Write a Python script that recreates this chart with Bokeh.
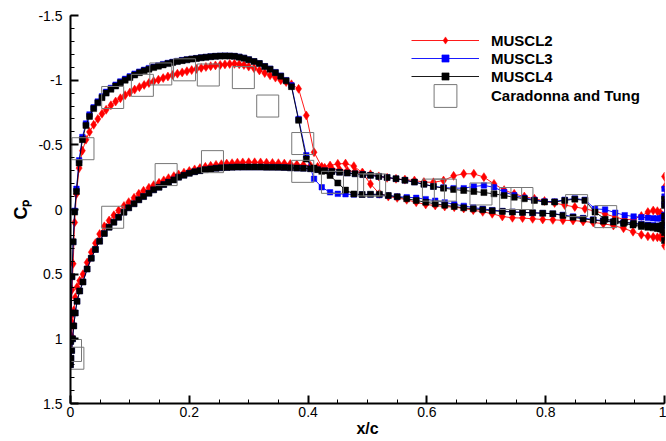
from bokeh.plotting import figure
from bokeh.models import (Range1d, SingleIntervalTicker, CustomJSTickFormatter,
                          Legend, LegendItem)
from bokeh.embed import file_html
from bokeh.resources import INLINE

# ---------------- data ----------------
x_upper = [0.0, 0.0004, 0.0012, 0.0025, 0.0045, 0.007, 0.010, 0.0145, 0.020, 0.026,
           0.032, 0.039, 0.046, 0.053, 0.060, 0.068, 0.076, 0.084, 0.092, 0.100,
           0.108, 0.116, 0.124, 0.132, 0.140, 0.148, 0.156, 0.164, 0.172, 0.180,
           0.188, 0.196, 0.204, 0.212, 0.220, 0.228, 0.236, 0.244, 0.252, 0.260,
           0.268, 0.276, 0.284, 0.292, 0.300, 0.309, 0.318, 0.327, 0.336, 0.345,
           0.354, 0.363, 0.372, 0.384, 0.397, 0.410, 0.423, 0.437, 0.450, 0.463,
           0.477, 0.491, 0.505, 0.520, 0.535, 0.550, 0.566, 0.582, 0.598, 0.614,
           0.630, 0.646, 0.662, 0.678, 0.694, 0.710, 0.727, 0.744, 0.761, 0.778,
           0.795, 0.812, 0.829, 0.846, 0.863, 0.880, 0.897, 0.914, 0.931, 0.947,
           0.961, 0.972, 0.981, 0.988, 0.993, 0.997, 1.0]

cp4_upper = [1.20, 1.02, 0.80, 0.52, 0.25, 0.02, -0.14, -0.36, -0.54, -0.65,
             -0.72, -0.78, -0.825, -0.865, -0.90, -0.93, -0.955, -0.98, -1.00, -1.02,
             -1.04, -1.058, -1.072, -1.085, -1.097, -1.108, -1.118, -1.128, -1.136, -1.144,
             -1.151, -1.157, -1.163, -1.168, -1.173, -1.177, -1.181, -1.184, -1.186, -1.187,
             -1.186, -1.184, -1.178, -1.170, -1.158, -1.144, -1.128, -1.105, -1.085, -1.058,
             -1.030, -0.995, -0.95, -0.69, -0.39, -0.32, -0.295, -0.263, -0.205, -0.15,
             -0.12, -0.116, -0.118, -0.118, -0.108, -0.098, -0.083, -0.07, -0.056, -0.044,
             -0.033, -0.023, -0.013, -0.005, 0.002, 0.009, 0.015, 0.020, 0.023, 0.026,
             0.029, 0.033, 0.046, 0.060, 0.072, 0.082, 0.090, 0.097, 0.108, 0.120,
             0.131, 0.138, 0.142, 0.146, 0.150, 0.160, 0.18]

cp3_upper = [1.20, 1.02, 0.80, 0.52, 0.25, 0.01, -0.16, -0.38, -0.56, -0.665,
             -0.735, -0.79, -0.835, -0.875, -0.91, -0.94, -0.965, -0.99, -1.01, -1.03,
             -1.05, -1.066, -1.08, -1.093, -1.104, -1.114, -1.124, -1.133, -1.141, -1.148,
             -1.155, -1.16, -1.165, -1.17, -1.175, -1.179, -1.183, -1.186, -1.188, -1.189,
             -1.188, -1.186, -1.18, -1.172, -1.16, -1.146, -1.13, -1.108, -1.088, -1.062,
             -1.035, -1.0, -0.96, -0.70, -0.42, -0.237, -0.172, -0.133, -0.121, -0.118,
             -0.116, -0.116, -0.116, -0.112, -0.108, -0.10, -0.095, -0.09, -0.08, -0.068,
             -0.055, -0.04, -0.028, -0.015, -0.005, 0.005, 0.012, 0.018, 0.022, 0.025,
             0.028, 0.032, 0.042, 0.055, 0.066, 0.078, 0.086, 0.093, 0.100, 0.106,
             0.112, 0.118, 0.122, 0.125, 0.128, 0.13, 0.13]

cp2_upper = [1.15, 1.00, 0.82, 0.62, 0.42, 0.10, -0.12, -0.32, -0.455, -0.54,
             -0.60, -0.655, -0.70, -0.74, -0.771, -0.806, -0.835, -0.86, -0.884, -0.905,
             -0.927, -0.946, -0.963, -0.978, -0.992, -1.004, -1.016, -1.028, -1.04, -1.05,
             -1.06, -1.069, -1.078, -1.087, -1.095, -1.102, -1.108, -1.114, -1.118, -1.122,
             -1.125, -1.126, -1.123, -1.117, -1.105, -1.093, -1.075, -1.055, -1.038, -1.02,
             -1.0, -0.985, -0.968, -0.933, -0.727, -0.443, -0.33, -0.34, -0.353, -0.355,
             -0.335, -0.285, -0.198, -0.122, -0.10, -0.09, -0.075, -0.056, -0.039, -0.031,
             -0.023, -0.018, -0.008, 0.005, 0.018, 0.033, 0.054, 0.064, 0.066, 0.072,
             0.077, 0.080, 0.083, 0.085, 0.092, 0.100, 0.110, 0.124, 0.145, 0.172,
             0.195, 0.207, 0.213, 0.215, 0.215, 0.215, 0.22]

x_lower = [0.0008, 0.002, 0.0035, 0.0055, 0.008, 0.011, 0.0155, 0.021, 0.028, 0.035,
           0.042, 0.049, 0.057, 0.065, 0.073, 0.081, 0.090, 0.098, 0.107, 0.115,
           0.123, 0.132, 0.140, 0.149, 0.157, 0.165, 0.174, 0.182, 0.191, 0.200,
           0.209, 0.218, 0.227, 0.236, 0.245, 0.254, 0.263, 0.272, 0.281, 0.290,
           0.300, 0.310, 0.320, 0.330, 0.340, 0.350, 0.360, 0.370, 0.381, 0.392,
           0.404, 0.416, 0.428, 0.440, 0.453, 0.466, 0.479, 0.492, 0.505, 0.519,
           0.533, 0.548, 0.563, 0.579, 0.595, 0.611, 0.628, 0.645, 0.662, 0.679,
           0.696, 0.713, 0.730, 0.747, 0.764, 0.781, 0.798, 0.815, 0.832, 0.849,
           0.866, 0.883, 0.900, 0.917, 0.933, 0.948, 0.961, 0.972, 0.981, 0.988,
           0.993, 0.997, 1.0]

cp4_lower = [1.15, 1.09, 1.00, 0.90, 0.80, 0.71, 0.63, 0.56, 0.46, 0.377,
             0.309, 0.245, 0.185, 0.137, 0.098, 0.06, 0.021, -0.013, -0.044, -0.075,
             -0.10, -0.126, -0.152, -0.172, -0.193, -0.211, -0.229, -0.25, -0.265, -0.28,
             -0.292, -0.30, -0.308, -0.314, -0.319, -0.322, -0.325, -0.327, -0.328, -0.328,
             -0.328, -0.328, -0.328, -0.327, -0.327, -0.326, -0.325, -0.322, -0.32, -0.318,
             -0.315, -0.308, -0.30, -0.294, -0.288, -0.282, -0.276, -0.27, -0.264, -0.256,
             -0.248, -0.238, -0.226, -0.212, -0.195, -0.178, -0.165, -0.155, -0.147, -0.139,
             -0.131, -0.121, -0.108, -0.095, -0.083, -0.07, -0.058, -0.058, -0.07, -0.08,
             -0.07, 0.02, 0.075, 0.088, 0.098, 0.108, 0.118, 0.126, 0.130, 0.132,
             0.128, 0.12, 0.10]

cp3_lower = [1.15, 1.09, 1.00, 0.90, 0.80, 0.71, 0.63, 0.56, 0.46, 0.377,
             0.309, 0.245, 0.185, 0.137, 0.098, 0.06, 0.021, -0.013, -0.044, -0.075,
             -0.10, -0.126, -0.152, -0.172, -0.193, -0.211, -0.229, -0.25, -0.265, -0.28,
             -0.292, -0.30, -0.308, -0.314, -0.319, -0.322, -0.325, -0.327, -0.328, -0.328,
             -0.328, -0.328, -0.328, -0.327, -0.327, -0.326, -0.325, -0.322, -0.32, -0.318,
             -0.315, -0.308, -0.30, -0.294, -0.288, -0.282, -0.276, -0.27, -0.264, -0.256,
             -0.248, -0.238, -0.226, -0.212, -0.195, -0.178, -0.17, -0.165, -0.165, -0.178,
             -0.186, -0.172, -0.135, -0.11, -0.09, -0.075, -0.062, -0.062, -0.075, -0.085,
             -0.075, -0.005, 0.0, 0.025, 0.044, 0.054, 0.06, 0.064, 0.068, 0.07,
             0.068, 0.06, 0.04]

cp2_lower = [1.08, 0.98, 0.88, 0.78, 0.68, 0.60, 0.55, 0.50, 0.41, 0.33,
             0.26, 0.19, 0.13, 0.085, 0.045, 0.008, -0.027, -0.057, -0.09, -0.121,
             -0.145, -0.168, -0.188, -0.206, -0.225, -0.242, -0.258, -0.271, -0.285, -0.298,
             -0.31, -0.32, -0.33, -0.338, -0.345, -0.35, -0.355, -0.358, -0.362, -0.364,
             -0.365, -0.365, -0.364, -0.362, -0.36, -0.358, -0.355, -0.352, -0.348, -0.344,
             -0.338, -0.33, -0.322, -0.315, -0.308, -0.30, -0.292, -0.283, -0.272, -0.256,
             -0.245, -0.237, -0.231, -0.224, -0.212, -0.21, -0.224, -0.26, -0.276, -0.276,
             -0.25, -0.198, -0.15, -0.121, -0.10, -0.083, -0.066, -0.05, -0.034, -0.02,
             -0.005, 0.012, 0.035, 0.058, 0.078, 0.075, 0.05, 0.02, 0.008, 0.013,
             0.025, 0.05, 0.08]

# trailing-edge base points (x = 1)
te_x2 = [1.0, 1.0, 1.0, 1.0]
te_cp2 = [-0.255, -0.17, -0.05, 0.28]
te_x3 = [1.0, 1.0, 1.0]
te_cp3 = [-0.16, -0.10, -0.04]
te_x4 = [1.0, 1.0, 1.0, 1.0]
te_cp4 = [-0.08, -0.03, 0.05, 0.24]

# Caradonna and Tung experiment
exp_x = [0.0, 0.004, 0.021, 0.071, 0.121, 0.152, 0.192, 0.232, 0.291, 0.332,
         0.391, 0.391, 0.441, 0.502, 0.512, 0.611, 0.631, 0.691, 0.741, 0.760,
         0.852, 0.901, 0.071, 0.161, 0.239]
exp_cp = [1.09, 1.15, -0.47, -0.866, -0.96, -1.048, -1.08, -1.04, -1.02, -0.80,
          -0.51, -0.295, -0.21, -0.19, -0.19, -0.15, -0.15, -0.12, -0.085, -0.085,
          -0.03, 0.055, 0.06, -0.27, -0.37]

labels = ["MUSCL2", "MUSCL3", "MUSCL4", "Caradonna and Tung"]

# ---------------- figure ----------------
FONT = "Liberation Sans"
p = figure(width=666, height=441, output_backend="svg", toolbar_location=None,
           x_range=Range1d(0, 1), y_range=Range1d(1.5, -1.5),
           min_border_left=70, min_border_right=2, min_border_top=15,
           min_border_bottom=38)
p.outline_line_color = None
p.xgrid.visible = False
p.ygrid.visible = False
p.background_fill_color = "white"
p.border_fill_color = "white"


def loop(tx, tc, xu, cu, xl, cl):
    xs = list(tx) + list(reversed(xu)) + list(xl)
    ys = list(tc) + list(reversed(cu)) + list(cl)
    return xs, ys


series = [
    (te_x2, te_cp2, cp2_upper, cp2_lower, "#ff0000", "diamond", 9),
    (te_x3, te_cp3, cp3_upper, cp3_lower, "#0000ff", "square", 5.5),
    (te_x4, te_cp4, cp4_upper, cp4_lower, "#000000", "square", 6),
]
items = []
for (tx, tc, cu, cl, col, mk, sz), lab in zip(series, labels[:3]):
    xs, ys = loop(tx, tc, x_upper, cu, x_lower, cl)
    lr = p.line(xs, ys, line_color=col, line_width=0.9)
    sr = p.scatter(xs, ys, marker=mk, size=sz, fill_color=col, line_color=col,
                   line_width=0.5)
    items.append(LegendItem(label=lab, renderers=[lr, sr]))

er = p.scatter(exp_x, exp_cp, marker="square", size=22, fill_color=None,
               line_color="#777777", line_width=1)

# axes
fmt_code = "return Number(tick.toFixed(3)).toString();"
for ax, interval, nminor in ((p.xaxis[0], 0.2, 4), (p.yaxis[0], 0.5, 5)):
    ax.ticker = SingleIntervalTicker(interval=interval, num_minor_ticks=nminor)
    ax.formatter = CustomJSTickFormatter(code=fmt_code)
    ax.axis_line_width = 2
    ax.axis_line_color = "black"
    ax.major_tick_line_width = 2
    ax.major_tick_line_color = "black"
    ax.minor_tick_line_color = "black"
    ax.minor_tick_line_width = 1
    ax.major_tick_in = 8
    ax.major_tick_out = 0
    ax.minor_tick_in = 4
    ax.minor_tick_out = 0
    ax.major_label_text_font = FONT
    ax.major_label_text_font_size = "14px"
    ax.major_label_text_color = "black"
    ax.axis_label_text_font = FONT
    ax.axis_label_text_font_style = "bold"
    ax.axis_label_text_color = "black"

p.xaxis.axis_label = "x/c"
p.xaxis.axis_label_text_font_size = "16px"
p.xaxis.major_label_standoff = 3
p.xaxis.axis_label_standoff = 0
p.yaxis.axis_label = "Cₚ"
p.yaxis.axis_label_text_font_size = "18px"
p.yaxis.major_label_standoff = 8
p.yaxis.axis_label_standoff = 4

# legends
common = dict(border_line_color=None, background_fill_alpha=0, padding=0,
              margin=0, spacing=0, glyph_width=68, label_standoff=12,
              label_text_font=FONT, label_text_font_style="bold",
              label_text_font_size="15px", label_text_color="black")
leg1 = Legend(items=items, location=(341, 318), glyph_height=18,
              label_height=18, **common)
leg2 = Legend(items=[LegendItem(label=labels[3], renderers=[er])],
              location=(341, 279), glyph_height=57, label_height=57, **common)
p.add_layout(leg1)
p.add_layout(leg2)

open("out.html", "w").write(file_html(p, INLINE))
